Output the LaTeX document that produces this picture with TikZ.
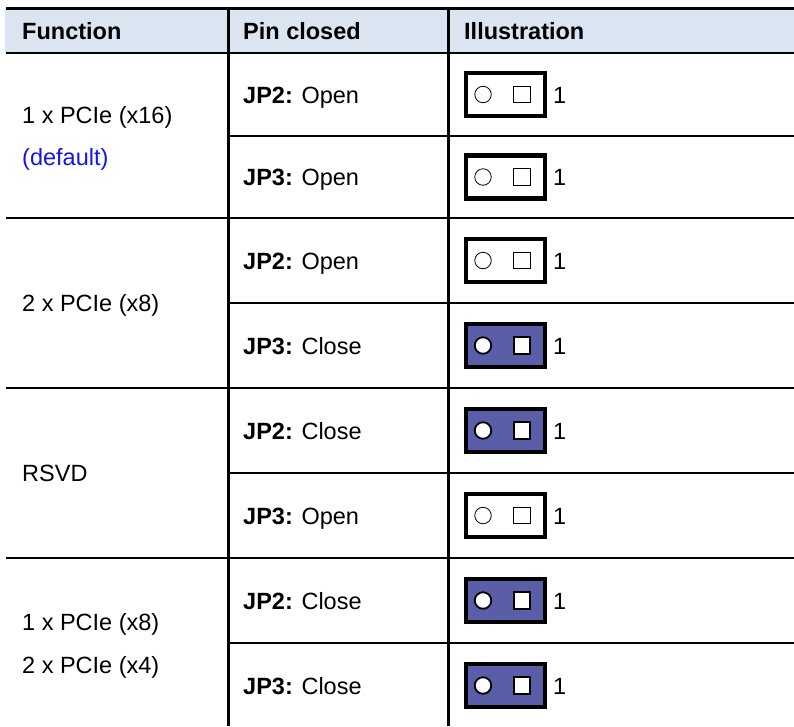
\documentclass[tikz,border=0pt]{standalone}
\usepackage{fontspec}
\setmainfont{Liberation Sans}
\definecolor{headblue}{RGB}{219,229,241}
\definecolor{jumpblue}{RGB}{90,94,168}
\definecolor{defblue}{RGB}{20,20,235}

\begin{document}
\begin{tikzpicture}
[x=1pt,y=-1pt,%
  every node/.style={inner sep=0pt,font=\fontsize{23.5}{28}\selectfont},%
  txt/.style={anchor=base west},%
  rule/.style={line width=2.2pt},%
  jbox/.style={draw,line width=4.2pt,minimum width=79.5pt,minimum height=43pt},%
  jopen/.style={jbox,fill=white},%
  jclose/.style={jbox,fill=jumpblue},%
  pinc/.style={draw,circle,fill=white,minimum size=16.5pt},%
  pins/.style={draw,rectangle,fill=white,minimum size=16.5pt}]
\useasboundingbox (0,0) rectangle (794,726);
\fill[headblue] (5,8) rectangle (794,53);

% header
\node[txt,font=\fontsize{23.5}{28}\selectfont\bfseries] (hfunc) at (22,39) {Function};
\node[txt,font=\fontsize{23.5}{28}\selectfont\bfseries] (hpin) at (243,39) {Pin closed};
\node[txt,font=\fontsize{23.5}{28}\selectfont\bfseries] (hill) at (464,39) {Illustration};

% function column
\node[txt] (f1) at (22,123) {1 x PCIe (x16)};
\node[txt,text=defblue] (f1d) at (22,165.5) {(default)};
\node[txt] (f2) at (22,311.5) {2 x PCIe (x8)};
\node[txt] (f3) at (22,481.5) {RSVD};
\node[txt] (f4) at (22,630) {1 x PCIe (x8)};
\node[txt] (f4b) at (22,673) {2 x PCIe (x4)};

% pin column
\node[txt] (p1) at (243,103) {\textbf{JP2:} Open};
\node[txt] (p2) at (243,185.5) {\textbf{JP3:} Open};
\node[txt] (p3) at (243,269) {\textbf{JP2:} Open};
\node[txt] (p4) at (243,354) {\textbf{JP3:} Close};
\node[txt] (p5) at (243,439) {\textbf{JP2:} Close};
\node[txt] (p6) at (243,524) {\textbf{JP3:} Open};
\node[txt] (p7) at (243,609) {\textbf{JP2:} Close};
\node[txt] (p8) at (243,694) {\textbf{JP3:} Close};

% illustration column
\node[jopen] (j1) at (505.5,94.5) {};
\node[pinc,line width=0.8pt] (j1c) at (483,94.5) {};
\node[pins,line width=0.8pt] (j1s) at (522,94.5) {};
\node[txt] (j1n) at (553,103) {1};
\node[jopen] (j2) at (505.5,177) {};
\node[pinc,line width=0.8pt] (j2c) at (483,177) {};
\node[pins,line width=0.8pt] (j2s) at (522,177) {};
\node[txt] (j2n) at (553,185.5) {1};
\node[jopen] (j3) at (505.5,260.5) {};
\node[pinc,line width=0.8pt] (j3c) at (483,260.5) {};
\node[pins,line width=0.8pt] (j3s) at (522,260.5) {};
\node[txt] (j3n) at (553,269) {1};
\node[jclose] (j4) at (505.5,345.5) {};
\node[pinc,line width=1.8pt] (j4c) at (483,345.5) {};
\node[pins,line width=1.8pt] (j4s) at (522,345.5) {};
\node[txt] (j4n) at (553,354) {1};
\node[jclose] (j5) at (505.5,430.5) {};
\node[pinc,line width=1.8pt] (j5c) at (483,430.5) {};
\node[pins,line width=1.8pt] (j5s) at (522,430.5) {};
\node[txt] (j5n) at (553,439) {1};
\node[jopen] (j6) at (505.5,515.5) {};
\node[pinc,line width=0.8pt] (j6c) at (483,515.5) {};
\node[pins,line width=0.8pt] (j6s) at (522,515.5) {};
\node[txt] (j6n) at (553,524) {1};
\node[jclose] (j7) at (505.5,600.5) {};
\node[pinc,line width=1.8pt] (j7c) at (483,600.5) {};
\node[pins,line width=1.8pt] (j7s) at (522,600.5) {};
\node[txt] (j7n) at (553,609) {1};
\node[jclose] (j8) at (505.5,685.5) {};
\node[pinc,line width=1.8pt] (j8c) at (483,685.5) {};
\node[pins,line width=1.8pt] (j8s) at (522,685.5) {};
\node[txt] (j8n) at (553,694) {1};

% rules
\draw[rule,line width=2.8pt] (6,8.5) -- (794,8.5);
\draw[rule] (6,53) -- (794,53);
\draw[rule] (6,218) -- (794,218);
\draw[rule] (6,388) -- (794,388);
\draw[rule] (6,558) -- (794,558);
\draw[rule] (228.5,136) -- (794,136);
\draw[rule] (228.5,303) -- (794,303);
\draw[rule] (228.5,473) -- (794,473);
\draw[rule] (228.5,643) -- (794,643);
\draw[rule] (228.5,8) -- (228.5,726);
\draw[rule] (448.5,8) -- (448.5,726);
\end{tikzpicture}
\end{document}
